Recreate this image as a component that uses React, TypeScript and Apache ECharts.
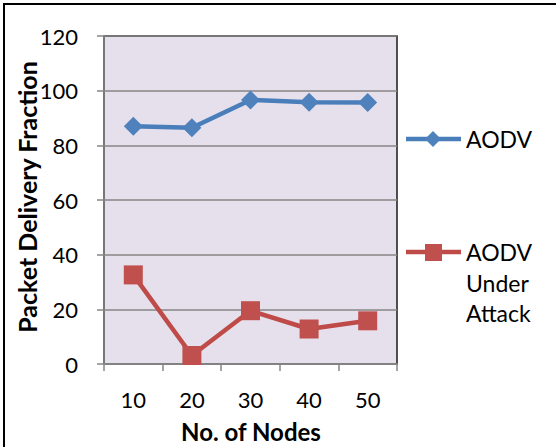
import React, { useEffect, useRef } from "react";
import * as echarts from "echarts";

const categories = ["10", "20", "30", "40", "50"];
const aodv = [87.0, 86.4, 96.6, 95.8, 95.7];
const aodvAttack = [32.6, 3.1, 19.5, 12.8, 15.8];
const yMin = 0;
const yMax = 120;
const yInterval = 20;

const FONT = "Lato, 'Open Sans', sans-serif";
const BLUE = "#4A7EBB";
const BLUE_M = "#4F81BD";
const RED = "#BE4B48";
const RED_M = "#C0504D";
const GRAY = "#868686";

export default function App() {
  const ref = useRef<HTMLDivElement>(null);
  useEffect(() => {
    if (!ref.current) return;
    const chart = echarts.init(ref.current, null, { renderer: "svg" });
    chart.setOption({
      animation: false,
      backgroundColor: "#ffffff",
      grid: {
        left: 104,
        right: 159,
        top: 36,
        bottom: 83,
        show: true,
        backgroundColor: "#E5E0EC",
        borderColor: "#1a1a1a",
        borderWidth: 1.5,
      },
      xAxis: {
        type: "category",
        data: categories,
        boundaryGap: true,
        axisLine: { show: true, lineStyle: { color: GRAY, width: 1.5 } },
        axisTick: { show: true, length: 7, lineStyle: { color: GRAY, width: 1.5 } },
        axisLabel: { color: "#000", fontFamily: FONT, fontSize: 22, margin: 24 },
        splitLine: { show: false },
      },
      yAxis: {
        type: "value",
        min: yMin,
        max: yMax,
        interval: yInterval,
        axisLine: { show: true, lineStyle: { color: GRAY, width: 1.5 } },
        axisTick: { show: true, length: 7, lineStyle: { color: GRAY, width: 1.5 } },
        axisLabel: { color: "#000", fontFamily: FONT, fontSize: 22, margin: 26 },
        splitLine: { show: true, lineStyle: { color: GRAY, width: 1.5 } },
      },
      series: [
        {
          name: "AODV",
          type: "line",
          data: aodv,
          symbol: "diamond",
          symbolSize: 19,
          lineStyle: { color: BLUE, width: 4.5 },
          itemStyle: { color: BLUE_M },
          z: 3,
        },
        {
          name: "AODV Under Attack",
          type: "line",
          data: aodvAttack,
          symbol: "rect",
          symbolSize: 19,
          lineStyle: { color: RED, width: 4.5 },
          itemStyle: { color: RED_M },
          z: 4,
        },
      ],
      graphic: [
        {
          type: "rect",
          shape: { x: 4, y: 4, width: 600, height: 600 },
          style: { fill: "none", stroke: "#000", lineWidth: 2 },
          silent: true,
          z: 100,
        },
        {
          type: "text",
          x: 27,
          y: 197,
          rotation: Math.PI / 2,
          style: {
            text: "Packet Delivery Fraction",
            fontFamily: FONT,
            fontWeight: "bold",
            fontSize: 25,
            fill: "#000",
            align: "center",
            verticalAlign: "middle",
          },
        },
        {
          type: "text",
          x: 251,
          y: 431,
          style: {
            text: "No. of Nodes",
            fontFamily: FONT,
            fontWeight: "bold",
            fontSize: 24,
            fill: "#000",
            align: "center",
            verticalAlign: "middle",
          },
        },
        // Legend: AODV
        {
          type: "line",
          shape: { x1: 406, y1: 139, x2: 461, y2: 139 },
          style: { stroke: BLUE, lineWidth: 4.5 },
        },
        {
          type: "polygon",
          shape: { points: [[433, 131], [441, 139], [433, 147], [425, 139]] },
          style: { fill: BLUE_M },
        },
        {
          type: "text",
          x: 466,
          y: 139,
          style: {
            text: "AODV",
            fontFamily: FONT,
            fontSize: 23,
            fill: "#000",
            verticalAlign: "middle",
          },
        },
        // Legend: AODV Under Attack
        {
          type: "line",
          shape: { x1: 406, y1: 252, x2: 461, y2: 252 },
          style: { stroke: RED, lineWidth: 4.5 },
        },
        {
          type: "rect",
          shape: { x: 425, y: 244, width: 17, height: 17 },
          style: { fill: RED_M },
        },
        {
          type: "text",
          x: 466,
          y: 237,
          style: {
            text: "AODV\nUnder\nAttack",
            fontFamily: FONT,
            fontSize: 23,
            lineHeight: 30.5,
            fill: "#000",
            verticalAlign: "top",
          },
        },
      ],
    });
    return () => chart.dispose();
  }, []);
  return (
    <div
      ref={ref}
      style={{ position: "absolute", left: 0, top: 0, width: 556, height: 447 }}
    />
  );
}
